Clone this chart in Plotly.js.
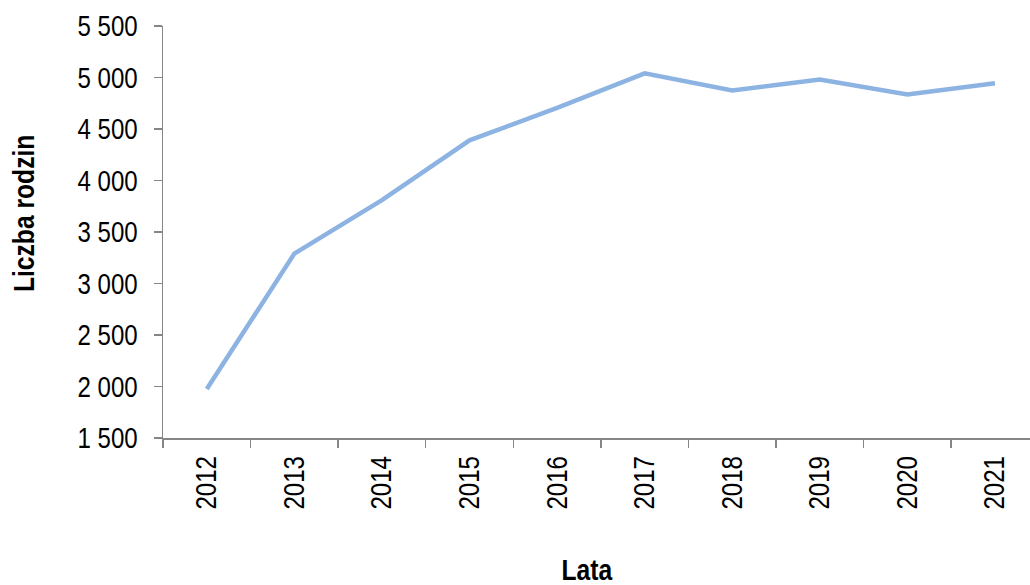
<!DOCTYPE html>
<html>
<head>
<meta charset="utf-8">
<script src="https://cdn.plot.ly/plotly-3.0.1.min.js"></script>
<style>html,body{margin:0;padding:0;background:#fff;}#chart{width:1030px;height:585px;}</style>
</head>
<body>
<div id="chart"></div>
<script>
const years = ["2012","2013","2014","2015","2016","2017","2018","2019","2020","2021"];
const families = [1975, 3290, 3810, 4390, 4705, 5040, 4875, 4980, 4835, 4945];
const yTickValues = [1500, 2000, 2500, 3000, 3500, 4000, 4500, 5000, 5500];
const xTitle = "Lata";
const yTitle = "Liczba rodzin";

const sans = "'Liberation Sans', Arial, sans-serif";

const trace = {
  x: years,
  y: families,
  type: "scatter",
  mode: "lines",
  line: {color: "#8DB3E2", width: 4.5},
  hoverinfo: "x+y"
};

const layout = {
  width: 1030,
  height: 585,
  margin: {l: 163, r: 0, t: 26, b: 147},
  paper_bgcolor: "#ffffff",
  plot_bgcolor: "#ffffff",
  separators: ", ",
  showlegend: false,
  xaxis: {
    type: "category",
    range: [-0.5, 9.4],
    tickson: "boundaries",
    ticks: "outside",
    ticklen: 8,
    tickwidth: 1.5,
    tickcolor: "#868686",
    showline: true,
    linecolor: "#868686",
    linewidth: 1.5,
    showgrid: false,
    zeroline: false,
    tickangle: -90,
    tickfont: {family: sans, size: 29, color: "#000"},
    ticklabelstandoff: 5
  },
  yaxis: {
    range: [1500, 5500],
    tickvals: yTickValues,
    tickformat: ",d",
    ticks: "outside",
    ticklen: 8,
    tickwidth: 1.5,
    tickcolor: "#868686",
    showline: true,
    linecolor: "#868686",
    linewidth: 1.5,
    showgrid: false,
    zeroline: false,
    tickfont: {family: sans, size: 29, color: "#000"},
    ticklabelstandoff: 10
  },
  annotations: [
    {text: xTitle, xref: "paper", yref: "paper", x: (587 - 163) / 867, y: (438 - 570) / 412,
     xanchor: "center", yanchor: "middle", showarrow: false,
     font: {family: sans, size: 29, weight: "bold", color: "#000"}},
    {text: yTitle, xref: "paper", yref: "paper", x: (24 - 163) / 867, y: (438 - 214) / 412,
     xanchor: "center", yanchor: "middle", showarrow: false, textangle: -90,
     font: {family: sans, size: 29, weight: "bold", color: "#000"}}
  ]
};

// Narrow-font look: squeeze glyphs horizontally (Arial Narrow is not installed)
function condense(selector, factor) {
  document.querySelectorAll(selector).forEach(function (t) {
    const w = t.getComputedTextLength();
    if (w > 0) {
      t.setAttribute("textLength", (w * factor).toFixed(1));
      t.setAttribute("lengthAdjust", "spacingAndGlyphs");
    }
  });
}

Plotly.newPlot("chart", [trace], layout, {displayModeBar: false, staticPlot: true}).then(function () {
  condense(".xtick text, .ytick text", 0.83);
  condense(".annotation-text", 0.85);
});
</script>
</body>
</html>
